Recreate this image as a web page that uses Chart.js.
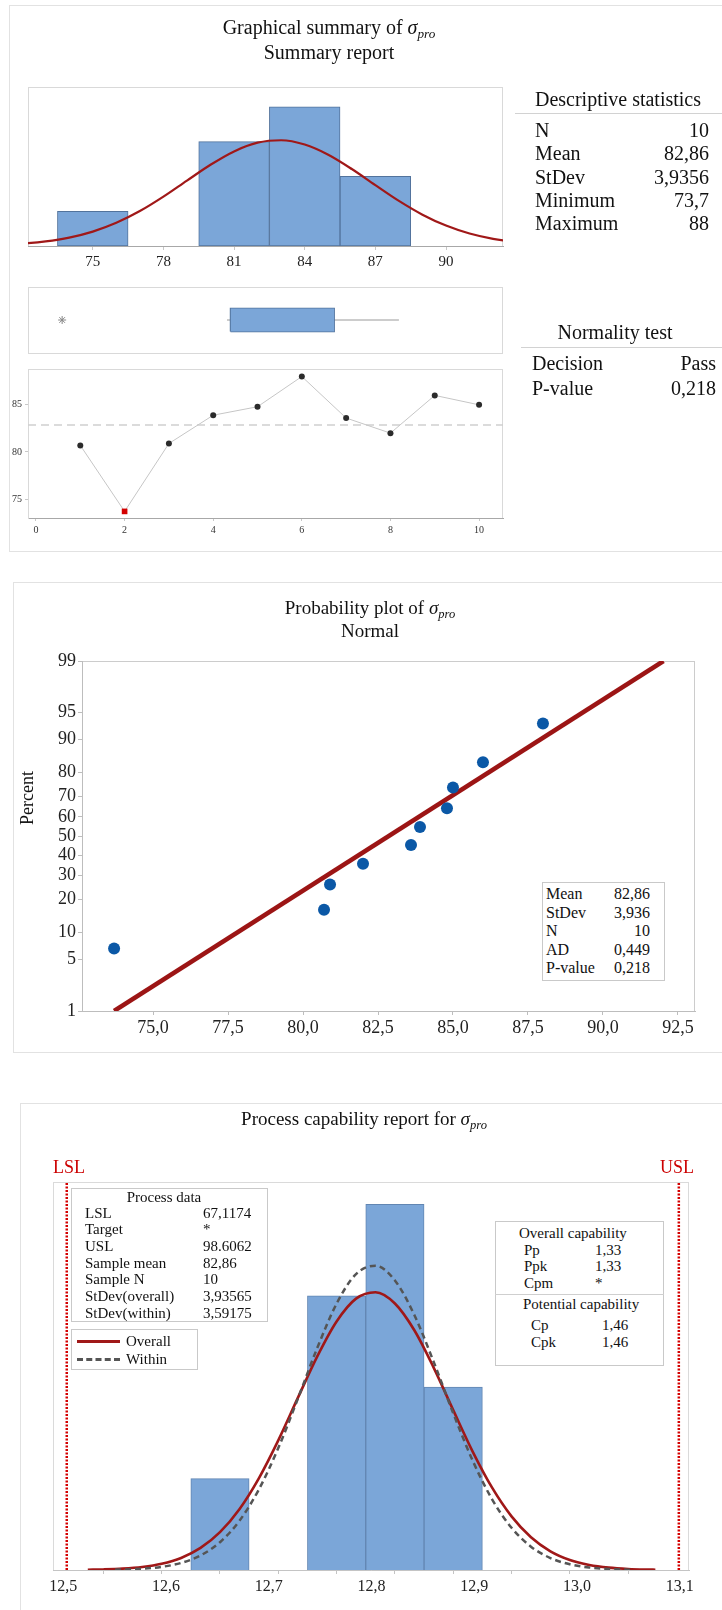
<!DOCTYPE html>
<html>
<head>
<meta charset="utf-8">
<script src="https://cdn.jsdelivr.net/npm/chart.js@4.4.1/dist/chart.umd.min.js"></script>
<style>
html,body{margin:0;padding:0;background:#fff;}
#page{position:relative;width:722px;height:1610px;overflow:hidden;font-family:'Liberation Serif','Times New Roman',serif;color:#111;}
canvas{position:absolute;left:0;top:0;}
.t{position:absolute;white-space:nowrap;}
.panel{position:absolute;border:1.5px solid #e2e2e2;box-sizing:border-box;}
.box{position:absolute;border:1px solid #c9c9c9;box-sizing:border-box;background:#fff;}
.hl{position:absolute;height:0;border-top:1px solid #d2d2d2;}
sub{font-size:0.66em;vertical-align:-0.3em;line-height:0;}
</style>
</head>
<body>
<div id="page">
  <div class="panel" style="left:9px;top:5px;width:730px;height:547px;"></div>
  <div class="panel" style="left:13px;top:582px;width:730px;height:471px;"></div>
  <div class="panel" style="left:20px;top:1103px;width:730px;height:600px;"></div>
  <canvas id="cA" width="722" height="1610"></canvas>
  <canvas id="cB" width="722" height="1610"></canvas>
  <canvas id="cC" width="722" height="1610"></canvas>
  <canvas id="cD" width="722" height="1610"></canvas>
  <canvas id="cE" width="722" height="1610"></canvas>
</div>
<script>
// ---------------- data ----------------
const observationIndex = [1, 2, 3, 4, 5, 6, 7, 8, 9, 10];
const seriesValues = [80.7, 73.7, 80.9, 83.9, 84.8, 88.0, 83.6, 82.0, 86.0, 85.0];
const meanValue = 82.86;

const binCenters = [75, 78, 81, 84, 87];
const binCounts = [1, 0, 3, 4, 2];
const histTicks = [75, 78, 81, 84, 87, 90];

// fitted normal curves (count scale)
const curveOverallX = [68.2, 69, 70, 71, 72, 73, 74, 75, 76, 77, 78, 79, 80, 81, 82, 83, 84, 85, 86, 87, 88, 89, 90, 91, 92, 93, 94, 95, 96, 97, 97.4];
const curveOverall = [0.0030, 0.0062, 0.0146, 0.0324, 0.0675, 0.1319, 0.2413, 0.4139, 0.6657, 1.0035, 1.4186, 1.8800, 2.3352, 2.7196, 2.9693, 3.0390, 2.9160, 2.6230, 2.2120, 1.7490, 1.2960, 0.9005, 0.5866, 0.3582, 0.2050, 0.1101, 0.0554, 0.0261, 0.0115, 0.0048, 0.0033];
const curveWithinX = [69.6, 70, 71, 72, 73, 74, 75, 76, 77, 78, 79, 80, 81, 82, 83, 84, 85, 86, 87, 88, 89, 90, 91, 92, 93, 94, 95, 96, 96.1];
const curveWithin = [0.0037, 0.0055, 0.0143, 0.0345, 0.0769, 0.1590, 0.3040, 0.5378, 0.8806, 1.3340, 1.8700, 2.4270, 2.9140, 3.2380, 3.3290, 3.1680, 2.7900, 2.2740, 1.7150, 1.1970, 0.7730, 0.4618, 0.2554, 0.1308, 0.0620, 0.0272, 0.0110, 0.0041, 0.0037];

// boxplot: lower whisker, Q1, median, Q3, upper whisker
const boxStats = [80.7, 80.85, 83.75, 85.25, 88.0];
const boxOutliers = [73.7];

const timeTicksX = [0, 2, 4, 6, 8, 10];
const timeTicksY = [75, 80, 85];

// probability plot
const sortedValues = [73.7, 80.7, 80.9, 82.0, 83.6, 83.9, 84.8, 85.0, 86.0, 88.0];
const probScores = [-1.496, -0.980, -0.645, -0.369, -0.121, 0.121, 0.369, 0.645, 0.980, 1.496];
const percentTickLabels = ['1', '5', '10', '20', '30', '40', '50', '60', '70', '80', '90', '95', '99'];
const percentTickScores = [-2.326, -1.645, -1.282, -0.842, -0.524, -0.253, 0, 0.253, 0.524, 0.842, 1.282, 1.645, 2.326];
const probTicksX = [75, 77.5, 80, 82.5, 85, 87.5, 90, 92.5];
const fitLineX = [73.70, 92.02];
const fitLineScores = [-2.326, 2.326];

// capability
const capBinTicks = [69, 72, 75, 78, 81, 84, 87, 90, 93, 96];
const capLabelTicks = [12.5, 12.6, 12.7, 12.8, 12.9, 13.0, 13.1];
const specLimits = [67.1174, 98.6062];

// ---------------- styling ----------------
const FONT = "'Liberation Serif','Times New Roman',serif";
const BLUE = '#7ba6d8';
const BLUE_EDGE = '#52739c';
const RED = '#a01818';
Chart.defaults.font.family = FONT;
Chart.defaults.color = '#222';

const framePlugin = {
  id: 'frame',
  beforeDraw(chart, args, opts) {
    if (!opts || !opts.color) return;
    const a = chart.chartArea, c = chart.ctx;
    c.save();
    c.strokeStyle = opts.color;
    c.lineWidth = 1;
    c.strokeRect(Math.round(a.left) + 0.5, Math.round(a.top) + 0.5, Math.round(a.width) - 1, Math.round(a.height));
    c.restore();
  }
};

function baseOptions(padding, frameColor) {
  return {
    responsive: false,
    devicePixelRatio: 1,
    animation: false,
    events: [],
    layout: { autoPadding: false, padding: padding },
    plugins: { legend: { display: false }, tooltip: { enabled: false }, frame: { color: frameColor } }
  };
}
const pts = (xs, ys) => xs.map((x, i) => ({ x: x, y: ys[i] }));

// ---------------- Chart A: histogram ----------------
const hA = baseOptions({ left: 28, top: 87, right: 219, bottom: 1340 }, '#d9d9d9');
hA.scales = {
  x: {
    type: 'linear', min: 72.25, max: 92.42, offset: false,
    afterBuildTicks: s => { s.ticks = histTicks.map(v => ({ value: v })); },
    afterFit: s => { s.height = 24; },
    grid: { drawOnChartArea: false, offset: false, tickLength: 4, color: '#c8c8c8' },
    border: { color: '#a8a8a8' },
    ticks: { font: { size: 15 }, color: '#222', padding: 3, autoSkip: false, maxRotation: 0, minRotation: 0 }
  },
  y: { display: false, min: 0, max: 4.57 }
};
new Chart(document.getElementById('cA'), {
  type: 'bar',
  data: {
    datasets: [
      { type: 'line', data: pts(curveOverallX, curveOverall), borderColor: RED, borderWidth: 2.2, pointRadius: 0, cubicInterpolationMode: 'monotone', fill: false, order: 0 },
      { type: 'bar', data: pts(binCenters, binCounts), backgroundColor: BLUE, borderColor: BLUE_EDGE, borderWidth: 1, borderSkipped: false, barPercentage: 1, categoryPercentage: 1, order: 1 }
    ]
  },
  options: hA,
  plugins: [framePlugin]
});

// ---------------- Chart B: boxplot ----------------
const BH = 0.35;
const hB = baseOptions({ left: 28, top: 287, right: 219, bottom: 1257 }, '#d9d9d9');
hB.scales = {
  x: { type: 'linear', display: false, min: 72.25, max: 92.42 },
  y: { type: 'linear', display: false, min: -1, max: 1 }
};
const [wLo, q1, med, q3, wHi] = boxStats;
new Chart(document.getElementById('cB'), {
  type: 'line',
  data: {
    datasets: [
      { data: [{ x: q1, y: BH }, { x: q3, y: BH }], fill: '+1', backgroundColor: BLUE, borderWidth: 0, pointRadius: 0 },
      { data: [{ x: q1, y: -BH }, { x: q3, y: -BH }], fill: false, borderWidth: 0, pointRadius: 0 },
      { data: [{ x: q1, y: -BH }, { x: q3, y: -BH }, { x: q3, y: BH }, { x: q1, y: BH }, { x: q1, y: -BH }], fill: false, borderColor: BLUE_EDGE, borderWidth: 1.5, pointRadius: 0 },
      { data: [{ x: med, y: -BH }, { x: med, y: BH }], fill: false, borderColor: BLUE_EDGE, borderWidth: 1.2, pointRadius: 0 },
      { data: [{ x: wLo, y: 0 }, { x: q1, y: 0 }], fill: false, borderColor: '#9a9a9a', borderWidth: 1, pointRadius: 0 },
      { data: [{ x: q3, y: 0 }, { x: wHi, y: 0 }], fill: false, borderColor: '#9a9a9a', borderWidth: 1, pointRadius: 0 },
      { data: boxOutliers.map(v => ({ x: v, y: 0 })), showLine: false, pointStyle: 'star', pointRadius: 4, borderColor: '#888', pointBorderWidth: 1 }
    ]
  },
  options: hB,
  plugins: [framePlugin]
});

// ---------------- Chart C: time series ----------------
const TX0 = -0.18, TX1 = 10.54;
const hC = baseOptions({ left: 0, top: 369, right: 219, bottom: 1072 }, '#d9d9d9');
hC.scales = {
  x: {
    type: 'linear', min: TX0, max: TX1,
    afterBuildTicks: s => { s.ticks = timeTicksX.map(v => ({ value: v })); },
    afterFit: s => { s.height = 20; },
    grid: { drawOnChartArea: false, tickLength: 3, color: '#c8c8c8' },
    border: { color: '#a8a8a8' },
    ticks: { font: { size: 10 }, color: '#333', padding: 3, autoSkip: false, maxRotation: 0, minRotation: 0 }
  },
  y: {
    type: 'linear', min: 73.0, max: 88.8,
    afterBuildTicks: s => { s.ticks = timeTicksY.map(v => ({ value: v })); },
    afterFit: s => { s.width = 28; },
    grid: { drawOnChartArea: false, tickLength: 3, color: '#c8c8c8' },
    border: { color: '#d9d9d9' },
    ticks: { font: { size: 10 }, color: '#333', padding: 3, autoSkip: false }
  }
};
const isOut = seriesValues.map(v => boxOutliers.includes(v));
new Chart(document.getElementById('cC'), {
  type: 'line',
  data: {
    datasets: [
      { data: observationIndex.map((x, i) => ({ x: x, y: seriesValues[i] })), borderColor: '#c6c6c6', borderWidth: 1, tension: 0, fill: false,
        pointStyle: isOut.map(o => o ? 'rect' : 'circle'),
        pointRadius: isOut.map(o => o ? 4 : 3),
        pointBackgroundColor: isOut.map(o => o ? '#d40000' : '#2b2b2b'),
        pointBorderColor: isOut.map(o => o ? '#d40000' : '#2b2b2b'),
        pointBorderWidth: 0, order: 0 },
      { data: [{ x: TX0, y: meanValue }, { x: TX1, y: meanValue }], borderColor: '#cfcfcf', borderDash: [8, 5], borderWidth: 1.3, pointRadius: 0, fill: false, order: 1 }
    ]
  },
  options: hC,
  plugins: [framePlugin]
});

// ---------------- Chart D: probability plot ----------------
const hD = baseOptions({ left: 12, top: 661, right: 27, bottom: 569 }, '#cccccc');
hD.scales = {
  x: {
    type: 'linear', min: 72.63, max: 93.07,
    afterBuildTicks: s => { s.ticks = probTicksX.map(v => ({ value: v })); },
    afterFit: s => { s.height = 30; },
    grid: { drawOnChartArea: false, tickLength: 4, color: '#bdbdbd' },
    border: { color: '#bdbdbd' },
    ticks: { font: { size: 18 }, color: '#222', padding: 2, autoSkip: false, maxRotation: 0, minRotation: 0,
      callback: v => Number(v).toFixed(1).replace('.', ',') }
  },
  y: {
    type: 'linear', min: -2.326, max: 2.326,
    afterBuildTicks: s => { s.ticks = percentTickScores.map(v => ({ value: v })); },
    afterFit: s => { s.width = 70; },
    grid: { drawOnChartArea: false, tickLength: 4, color: '#bdbdbd' },
    border: { color: '#bdbdbd' },
    ticks: { font: { size: 18 }, color: '#222', padding: 2, autoSkip: false,
      callback: (v, i) => percentTickLabels[i] }
  }
};
new Chart(document.getElementById('cD'), {
  type: 'line',
  data: {
    datasets: [
      { data: pts(sortedValues, probScores), showLine: false, pointRadius: 6, pointBackgroundColor: '#0b58a6', pointBorderColor: '#0b58a6', pointBorderWidth: 0, order: 0 },
      { data: pts(fitLineX, fitLineScores), borderColor: '#9c1515', borderWidth: 4.5, pointRadius: 0, fill: false, order: 1 }
    ]
  },
  options: hD,
  plugins: [framePlugin]
});

// ---------------- Chart E: capability ----------------
const CAP_YMAX = 4.245;
const hE = baseOptions({ left: 53, top: 1182, right: 33, bottom: 12 }, '#dadada');
hE.scales = {
  xo: {
    type: 'linear', position: 'bottom', axis: 'x', weight: 0, min: 66.41, max: 99.13, offset: false,
    afterBuildTicks: s => { s.ticks = capBinTicks.map(v => ({ value: v })); },
    afterFit: s => { s.height = 4; },
    grid: { drawOnChartArea: false, offset: false, tickLength: 4, color: '#c4c4c4' },
    border: { color: '#c4c4c4' },
    ticks: { display: false }
  },
  xl: {
    type: 'linear', position: 'bottom', axis: 'x', weight: 1, min: 12.490, max: 13.109, offset: false,
    afterBuildTicks: s => { s.ticks = capLabelTicks.map(v => ({ value: v })); },
    afterFit: s => { s.height = 24; },
    grid: { display: false, drawTicks: false, offset: false },
    border: { display: false },
    ticks: { font: { size: 16 }, color: '#222', padding: 3, autoSkip: false, maxRotation: 0, minRotation: 0,
      callback: v => Number(v).toFixed(1).replace('.', ',') }
  },
  y: { display: false, min: 0, max: CAP_YMAX }
};
new Chart(document.getElementById('cE'), {
  type: 'bar',
  data: {
    datasets: [
      { type: 'line', xAxisID: 'xo', data: pts(curveWithinX, curveWithin), borderColor: '#555', borderDash: [6, 4], borderWidth: 2.5, pointRadius: 0, cubicInterpolationMode: 'monotone', fill: false, order: 0 },
      { type: 'line', xAxisID: 'xo', data: pts(curveOverallX, curveOverall), borderColor: RED, borderWidth: 2.6, pointRadius: 0, cubicInterpolationMode: 'monotone', fill: false, order: 1 },
      { type: 'line', xAxisID: 'xo', data: [{ x: specLimits[0], y: 0 }, { x: specLimits[0], y: CAP_YMAX }], borderColor: '#d40000', borderDash: [2, 1.5], borderWidth: 2.5, pointRadius: 0, fill: false, order: 2 },
      { type: 'line', xAxisID: 'xo', data: [{ x: specLimits[1], y: 0 }, { x: specLimits[1], y: CAP_YMAX }], borderColor: '#d40000', borderDash: [2, 1.5], borderWidth: 2.5, pointRadius: 0, fill: false, order: 2 },
      { type: 'bar', xAxisID: 'xo', data: pts(binCenters, binCounts), backgroundColor: BLUE, borderColor: '#6286b2', borderWidth: 1, borderSkipped: 'start', barPercentage: 1, categoryPercentage: 1, order: 3 }
    ]
  },
  options: hE,
  plugins: [framePlugin]
});

// ---------------- texts ----------------
const page = document.getElementById('page');
function textAt(html, x, cy, size, align, color) {
  const d = document.createElement('div');
  d.className = 't';
  d.innerHTML = html;
  d.style.fontSize = size + 'px';
  d.style.lineHeight = size + 'px';
  d.style.top = (cy - size / 2) + 'px';
  if (align === 'left') d.style.left = x + 'px';
  else if (align === 'right') d.style.right = (722 - x) + 'px';
  else { d.style.left = (x - 300) + 'px'; d.style.width = '600px'; d.style.textAlign = 'center'; }
  if (color) d.style.color = color;
  page.appendChild(d);
  return d;
}
function boxAt(l, t, w, h) {
  const d = document.createElement('div');
  d.className = 'box';
  d.style.left = l + 'px'; d.style.top = t + 'px'; d.style.width = w + 'px'; d.style.height = h + 'px';
  page.appendChild(d);
}
function hline(l, r, y, style) {
  const d = document.createElement('div');
  d.className = 'hl';
  d.style.left = l + 'px'; d.style.width = (r - l) + 'px'; d.style.top = y + 'px';
  if (style) d.style.borderTop = style;
  page.appendChild(d);
}
const SIG = '<i>σ</i><sub><i>pro</i></sub>';

// panel 1
textAt('Graphical summary of ' + SIG, 329, 27, 20, 'center');
textAt('Summary report', 329, 52, 20, 'center');
textAt('Descriptive statistics', 618, 98.5, 20, 'center');
hline(515, 722, 113);
const descLabels = ['N', 'Mean', 'StDev', 'Minimum', 'Maximum'];
const descValues = ['10', '82,86', '3,9356', '73,7', '88'];
descLabels.forEach((s, i) => {
  textAt(s, 535, 130 + i * 23.3, 20, 'left');
  textAt(descValues[i], 709, 130 + i * 23.3, 20, 'right');
});
textAt('Normality test', 615, 332, 20, 'center');
hline(521, 722, 347);
textAt('Decision', 532, 363, 20, 'left');
textAt('Pass', 716, 363, 20, 'right');
textAt('P-value', 532, 388, 20, 'left');
textAt('0,218', 716, 388, 20, 'right');

// panel 2
textAt('Probability plot of ' + SIG, 370, 607, 19, 'center');
textAt('Normal', 370, 630, 19, 'center');
const pct = textAt('Percent', 27, 798, 18, 'center');
pct.style.transform = 'rotate(-90deg)';
boxAt(542, 882, 123, 99);
const probLabels = ['Mean', 'StDev', 'N', 'AD', 'P-value'];
const probValues = ['82,86', '3,936', '10', '0,449', '0,218'];
probLabels.forEach((s, i) => {
  textAt(s, 546, 894 + i * 18.6, 16, 'left');
  textAt(probValues[i], 650, 894 + i * 18.6, 16, 'right');
});

// panel 3
textAt('Process capability report for ' + SIG, 364, 1118, 19, 'center');
textAt('LSL', 53, 1167, 18, 'left', '#cc0000');
textAt('USL', 660, 1167, 18, 'left', '#cc0000');
boxAt(71, 1188, 197, 134);
textAt('Process data', 164, 1197, 15, 'center');
const pdLabels = ['LSL', 'Target', 'USL', 'Sample mean', 'Sample N', 'StDev(overall)', 'StDev(within)'];
const pdValues = ['67,1174', '*', '98.6062', '82,86', '10', '3,93565', '3,59175'];
pdLabels.forEach((s, i) => {
  textAt(s, 85, 1213 + i * 16.67, 15, 'left');
  textAt(pdValues[i], 203, 1213 + i * 16.67, 15, 'left');
});
boxAt(71, 1329, 127, 41);
hline(77, 120, 1340, '3px solid ' + RED);
hline(77, 120, 1358, '3px dashed #555');
textAt('Overall', 126, 1341, 15, 'left');
textAt('Within', 126, 1359, 15, 'left');
boxAt(495, 1221, 169, 145);
textAt('Overall capability', 519, 1233, 15, 'left');
[['Pp', '1,33', 1250.7], ['Ppk', '1,33', 1266.7], ['Cpm', '*', 1283.5]].forEach(r => {
  textAt(r[0], 524, r[2], 15, 'left');
  textAt(r[1], 595, r[2], 15, 'left');
});
hline(495, 664, 1294, '1px solid #cfcfcf');
textAt('Potential capability', 523, 1304, 15, 'left');
[['Cp', '1,46', 1325], ['Cpk', '1,46', 1342]].forEach(r => {
  textAt(r[0], 531, r[2], 15, 'left');
  textAt(r[1], 602, r[2], 15, 'left');
});
</script>
</body>
</html>
